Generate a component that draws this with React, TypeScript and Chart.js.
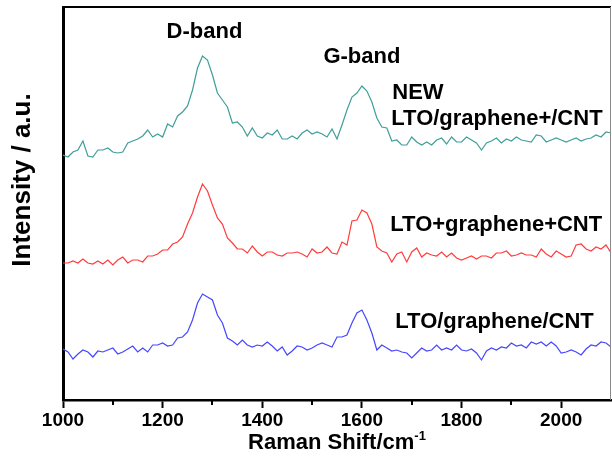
import React, { useEffect, useRef } from 'react';
import { Chart, registerables } from 'chart.js';

Chart.register(...registerables);

const FONT = '"Liberation Sans", Arial, Helvetica, sans-serif';

// Raman shift (cm-1)
const ramanShift = [
  1000, 1010, 1020, 1030, 1040, 1050, 1060, 1070, 1080, 1090,
  1100, 1110, 1120, 1130, 1140, 1150, 1160, 1170, 1180, 1190,
  1200, 1210, 1220, 1230, 1240, 1250, 1260, 1270, 1280, 1290,
  1300, 1310, 1320, 1330, 1340, 1350, 1360, 1370, 1380, 1390,
  1400, 1410, 1420, 1430, 1440, 1450, 1460, 1470, 1480, 1490,
  1500, 1510, 1520, 1530, 1540, 1550, 1560, 1570, 1580, 1590,
  1600, 1610, 1620, 1630, 1640, 1650, 1660, 1670, 1680, 1690,
  1700, 1710, 1720, 1730, 1740, 1750, 1760, 1770, 1780, 1790,
  1800, 1810, 1820, 1830, 1840, 1850, 1860, 1870, 1880, 1890,
  1900, 1910, 1920, 1930, 1940, 1950, 1960, 1970, 1980, 1990,
  2000, 2010, 2020, 2030, 2040, 2050, 2060, 2070, 2080, 2090,
  2100,
];

// Intensity (a.u., stacked with offsets)
const newLtoGrapheneCnt = [
  245, 243, 248, 250, 259, 244, 243, 250, 250, 252,
  248, 247, 248, 257, 259, 261, 264, 270, 263, 266,
  263, 276, 273, 284, 288, 294, 310, 332, 344, 340,
  325, 307, 300, 293, 277, 278, 273, 264, 272, 264,
  262, 267, 265, 270, 261, 261, 264, 261, 267, 270,
  266, 268, 266, 263, 271, 261, 275, 290, 303, 307,
  314, 309, 298, 282, 273, 272, 259, 260, 255, 255,
  263, 258, 255, 258, 255, 260, 262, 256, 263, 258,
  258, 263, 260, 257, 250, 257, 259, 262, 257, 261,
  259, 263, 260, 259, 258, 265, 264, 258, 260, 262,
  260, 258, 260, 262, 259, 261, 262, 265, 263, 268,
  267,
];

const ltoPlusGraphenePlusCnt = [
  137, 137, 139, 137, 141, 137, 136, 139, 136, 140,
  135, 140, 143, 137, 140, 140, 138, 144, 144, 146,
  150, 150, 156, 158, 163, 176, 187, 203, 216, 209,
  195, 182, 176, 162, 157, 151, 151, 147, 154, 148,
  144, 148, 148, 145, 144, 147, 147, 148, 146, 143,
  151, 147, 148, 153, 147, 146, 158, 155, 179, 180,
  190, 187, 176, 153, 149, 147, 138, 146, 148, 138,
  148, 152, 143, 147, 145, 144, 148, 143, 147, 142,
  140, 142, 144, 141, 144, 144, 142, 147, 147, 149,
  144, 145, 147, 145, 145, 143, 151, 146, 143, 149,
  146, 143, 144, 155, 156, 151, 149, 153, 151, 155,
  147,
];

const ltoGrapheneCnt = [
  51, 48, 41, 46, 50, 48, 43, 49, 48, 50,
  52, 46, 48, 51, 54, 48, 52, 48, 55, 55,
  57, 54, 55, 62, 63, 68, 80, 97, 106, 103,
  100, 85, 77, 62, 59, 55, 60, 55, 53, 55,
  54, 58, 54, 49, 53, 45, 49, 54, 53, 50,
  52, 55, 57, 55, 53, 63, 63, 65, 77, 87,
  90, 80, 67, 50, 55, 52, 49, 50, 48, 47,
  42, 47, 52, 49, 50, 55, 50, 52, 50, 55,
  50, 49, 51, 47, 40, 49, 52, 50, 53, 52,
  57, 54, 55, 52, 58, 56, 58, 54, 58, 54,
  47, 48, 50, 48, 45, 51, 55, 54, 58, 57,
  53,
];

const seriesNames = ['NEW LTO/graphene+/CNT', 'LTO+graphene+CNT', 'LTO/graphene/CNT'];
const seriesValues = [newLtoGrapheneCnt, ltoPlusGraphenePlusCnt, ltoGrapheneCnt];
const seriesColors = ['#3f9e9b', '#ff3c3c', '#4646ff'];

const xMin = 1000;
const xMax = 2100;
const xMajorStep = 200;
const xMinorTicks = [1100, 1300, 1500, 1700, 1900];
const yMin = 0;
const yMax = 393;

// text labels anchored in data coordinates
const annotationTexts = ['D-band', 'G-band', 'NEW', 'LTO/graphene+/CNT', 'LTO+graphene+CNT', 'LTO/graphene/CNT'];
const annotationX = [1284, 1600, 1661, 1659, 1657, 1667];
const annotationY = [362, 337, 301, 275, 169, 72];
const annotationAlign: CanvasTextAlign[] = ['center', 'center', 'left', 'left', 'left', 'left'];

const xTitle = 'Raman Shift/cm';
const xTitleSup = '-1';
const yTitle = 'Intensity / a.u.';

const overlayPlugin = {
  id: 'overlay',
  afterDraw(chart: any) {
    const { ctx, chartArea: a, scales } = chart;
    const xs = scales.x;
    const ys = scales.y;
    ctx.save();
    // top & right frame
    ctx.strokeStyle = '#000';
    ctx.lineWidth = 2;
    ctx.beginPath();
    ctx.moveTo(a.left, a.top);
    ctx.lineTo(a.right, a.top);
    ctx.stroke();
    ctx.strokeStyle = '#8a8a8a';
    ctx.lineWidth = 1;
    ctx.beginPath();
    ctx.moveTo(a.right - 0.5, a.top);
    ctx.lineTo(a.right - 0.5, a.bottom);
    ctx.stroke();
    // minor ticks
    ctx.strokeStyle = '#000';
    ctx.lineWidth = 2;
    xMinorTicks.forEach((v) => {
      const px = Math.round(xs.getPixelForValue(v));
      ctx.beginPath();
      ctx.moveTo(px, a.bottom);
      ctx.lineTo(px, a.bottom + 5);
      ctx.stroke();
    });
    // annotations
    ctx.fillStyle = '#000';
    ctx.font = `bold 22px ${FONT}`;
    ctx.textBaseline = 'alphabetic';
    annotationTexts.forEach((t, i) => {
      ctx.textAlign = annotationAlign[i];
      ctx.fillText(t, xs.getPixelForValue(annotationX[i]), ys.getPixelForValue(annotationY[i]));
    });
    // x title with superscript
    ctx.textAlign = 'left';
    ctx.font = `bold 22px ${FONT}`;
    const w1 = ctx.measureText(xTitle).width;
    ctx.font = `bold 13px ${FONT}`;
    const w2 = ctx.measureText(xTitleSup).width;
    const cx = (a.left + a.right) / 2;
    const startX = cx - (w1 + w2) / 2;
    const baseY = 449;
    ctx.font = `bold 22px ${FONT}`;
    ctx.fillText(xTitle, startX, baseY);
    ctx.font = `bold 13px ${FONT}`;
    ctx.fillText(xTitleSup, startX + w1, baseY - 9);
    // y title
    ctx.translate(23, 180);
    ctx.rotate(-Math.PI / 2);
    ctx.textAlign = 'center';
    ctx.textBaseline = 'middle';
    ctx.font = `bold 26px ${FONT}`;
    ctx.fillText(yTitle, 0, 0);
    ctx.restore();
  },
};

export default function App() {
  const canvasRef = useRef<HTMLCanvasElement | null>(null);

  useEffect(() => {
    if (!canvasRef.current) return;
    const datasets = seriesValues.map((vals, i) => ({
      label: seriesNames[i],
      data: vals.map((v, j) => ({ x: ramanShift[j], y: v })),
      borderColor: seriesColors[i],
      backgroundColor: seriesColors[i],
      borderWidth: 1.2,
      pointRadius: 0,
      tension: 0,
      fill: false,
    }));
    const chart = new Chart(canvasRef.current, {
      type: 'line',
      data: { datasets },
      plugins: [overlayPlugin],
      options: {
        responsive: false,
        animation: false,
        devicePixelRatio: 1,
        layout: { padding: { top: 7, right: 1, left: 0, bottom: 0 } },
        plugins: {
          legend: { display: false },
          tooltip: { enabled: false },
        },
        scales: {
          x: {
            type: 'linear',
            position: 'bottom',
            min: xMin,
            max: xMax,
            ticks: {
              stepSize: xMajorStep,
              includeBounds: false,
              autoSkip: false,
              maxRotation: 0,
              color: '#000',
              padding: 1,
              font: { family: FONT, size: 19, weight: 'bold' },
              callback: (v: any) => String(v),
            },
            grid: {
              drawOnChartArea: false,
              drawTicks: true,
              tickLength: 8,
              tickWidth: 2,
              tickColor: '#000',
            },
            border: { display: true, width: 2.5, color: '#000' },
            afterFit(scale: any) {
              scale.height = 68;
              scale.paddingLeft = 0;
              scale.paddingRight = 0;
            },
          },
          y: {
            type: 'linear',
            position: 'left',
            min: yMin,
            max: yMax,
            ticks: { display: false },
            grid: { drawOnChartArea: false, drawTicks: false },
            border: { display: true, width: 3, color: '#000' },
            afterFit(scale: any) {
              scale.width = 63;
            },
          },
        },
      },
    });
    return () => chart.destroy();
  }, []);

  return (
    <div style={{ position: 'absolute', left: 0, top: 0, width: 612, height: 468, background: '#fff' }}>
      <canvas ref={canvasRef} width={612} height={468} />
    </div>
  );
}
